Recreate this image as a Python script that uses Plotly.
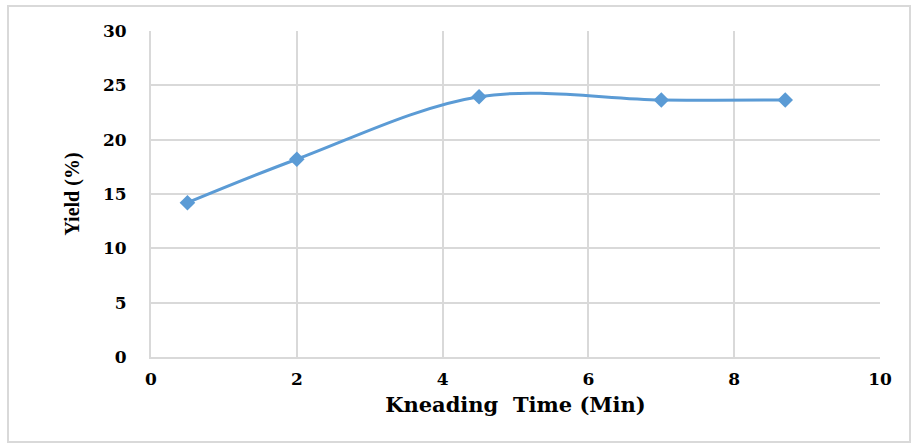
import plotly.graph_objects as go

kneading_time = [0.5, 2, 4.5, 7, 8.7]
yield_pct = [14.2, 18.2, 23.95, 23.65, 23.65]

x_ticks = [0, 2, 4, 6, 8, 10]
y_ticks = [0, 5, 10, 15, 20, 25, 30]

W, H = 920, 444
ml, mr, mt, mb = 151, 40, 31, 87

fig = go.Figure()
fig.add_trace(go.Scatter(
    x=kneading_time, y=yield_pct, mode="lines+markers",
    line=dict(color="#5B9BD5", width=3, shape="spline", smoothing=1),
    marker=dict(symbol="diamond", size=12, color="#5B9BD5"),
    showlegend=False,
))

font_wide = "DejaVu Serif, serif"
font_serif = "Liberation Serif, Times New Roman, serif"
fig.update_layout(
    width=W, height=H,
    margin=dict(l=ml, r=mr, t=mt, b=mb),
    paper_bgcolor="white", plot_bgcolor="white",
    font=dict(family=font_wide, color="black"),
)
fig.update_xaxes(
    range=[0, 10], tickvals=x_ticks, ticktext=[f"<b>{v}</b>" for v in x_ticks],
    tickfont=dict(size=17, family=font_wide), showgrid=True, gridcolor="#d9d9d9", gridwidth=2,
    showline=True, linecolor="#d9d9d9", linewidth=2, zeroline=False,
    ticks="outside", ticklen=6, tickcolor="rgba(0,0,0,0)",
    title=dict(text="<b>Kneading  Time (Min)</b>", font=dict(size=21, family=font_wide), standoff=9),
)
fig.update_yaxes(
    range=[0, 30], tickvals=y_ticks, ticktext=[f"<b>{v}</b>" for v in y_ticks],
    tickfont=dict(size=17, family=font_wide), showgrid=True, gridcolor="#d9d9d9", gridwidth=2,
    showline=True, linecolor="#d9d9d9", linewidth=2, zeroline=False, ticks="outside", ticklen=19,
    tickcolor="rgba(0,0,0,0)",
    title=dict(text="<b>Yield (%)</b>", font=dict(size=20, family=font_serif), standoff=18),
)
# outer chart border
fig.add_shape(type="rect", xref="paper", yref="paper",
              x0=(8 - ml) / (W - ml - mr), x1=(910 - ml) / (W - ml - mr),
              y0=-(442 - (H - mb)) / (H - mt - mb), y1=1 + (mt - 6) / (H - mt - mb),
              line=dict(color="#d9d9d9", width=2), layer="below")

fig.write_html("out.html")
